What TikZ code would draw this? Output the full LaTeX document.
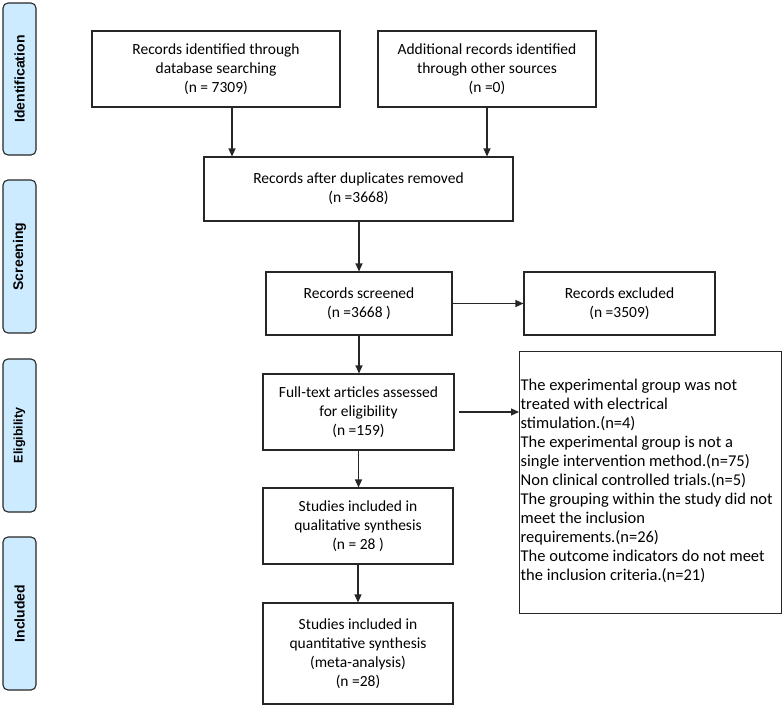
\documentclass[tikz,border=0pt]{standalone}
\usepackage{fontspec}
\setmainfont{Carlito}
\newfontfamily\labfont{Liberation Sans}
\usetikzlibrary{arrows.meta}
\definecolor{phaseblue}{HTML}{CCEBFF}
\begin{document}
\begin{tikzpicture}[x=1pt,y=1pt,
  box/.style={draw=black!85, line width=1.1pt, align=center, inner sep=2pt,
    font=\fontsize{15.5}{19}\selectfont},
  phase/.style={draw=black!85, line width=1.1pt, rounded corners=5pt, fill=phaseblue,
    minimum width=33pt, minimum height=153pt, inner sep=0pt},
  phasetext/.style={rotate=90, font=\labfont\bfseries\fontsize{14}{16}\selectfont},
  arr/.style={line width=1.1pt, draw=black!85, -{Triangle[length=8pt,width=7pt]}}
]
\useasboundingbox (0,0) rectangle (782,-707);

% phase labels
\node[phase, minimum height=152pt] (pid) at (19.5,-79) {};
\node[phasetext] (tid) at (pid.center) {Identification};
\node[phase] (pscr) at (19.5,-256.5) {};
\node[phasetext] (tscr) at (pscr.center) {Screening};
\node[phase] (pel) at (19.5,-435.5) {};
\node[phasetext, font=\labfont\bfseries\fontsize{12.5}{14}\selectfont] (tel) at (pel.center) {Eligibility};
\node[phase] (pin) at (19.5,-613.5) {};
\node[phasetext] (tin) at (pin.center) {Included};

% boxes
\node[box, minimum width=248pt, minimum height=76pt] (b1) at (216,-69)
  {Records identified through\\database searching\\(n = 7309)};
\node[box, minimum width=218pt, minimum height=76pt] (b2) at (487,-69)
  {Additional records identified\\through other sources\\(n =0)};
\node[box, minimum width=309pt, minimum height=64pt] (b3) at (358.5,-189)
  {Records after duplicates removed\\(n =3668)};
\node[box, minimum width=186pt, minimum height=63pt] (b4) at (359,-303.5)
  {Records screened\\(n =3668 )};
\node[box, minimum width=191pt, minimum height=63pt] (b5) at (619.5,-303.5)
  {Records excluded\\(n =3509)};
\node[box, minimum width=191pt, minimum height=76pt] (b6) at (358.5,-412)
  {Full-text articles assessed\\for eligibility\\(n =159)};
\node[box, minimum width=190pt, minimum height=76pt] (b7) at (358,-526)
  {Studies included in\\qualitative synthesis\\(n = 28 )};
\node[box, minimum width=190pt, minimum height=101pt] (b8) at (358,-653.5)
  {Studies included in\\quantitative synthesis\\(meta-analysis)\\(n =28)};
\node[box, minimum width=262pt, minimum height=262pt, anchor=north west] (ex) at (519,-351) {};
\node[anchor=north west, align=left, inner sep=0pt, font=\fontsize{16.5}{19}\selectfont] (extext)
  at ([xshift=1.5pt,yshift=-28pt]ex.north west)
  {The experimental group was not\\
   treated with electrical\\
   stimulation.(n=4)\\
   The experimental group is not a\\
   single intervention method.(n=75)\\
   Non clinical controlled trials.(n=5)\\
   The grouping within the study did not\\
   meet the inclusion\\
   requirements.(n=26)\\
   The outcome indicators do not meet\\
   the inclusion criteria.(n=21)};

% arrows
\draw[arr] ([xshift=16pt]b1.south) -- ([xshift=16pt]b1.south |- b3.north);
\draw[arr] (b2.south) -- (b2.south |- b3.north);
\draw[arr] (b3.south -| b4.north) -- (b4.north);
\draw[arr] (b4.east) -- (b5.west);
\draw[arr] (b4.south) -- (b4.south |- b6.north);
\draw[arr] ([xshift=4pt]b6.east) -- (b6.east -| ex.west);
\draw[arr] (b6.south) -- (b6.south |- b7.north);
\draw[arr] (b7.south) -- (b7.south |- b8.north);
\end{tikzpicture}
\end{document}
